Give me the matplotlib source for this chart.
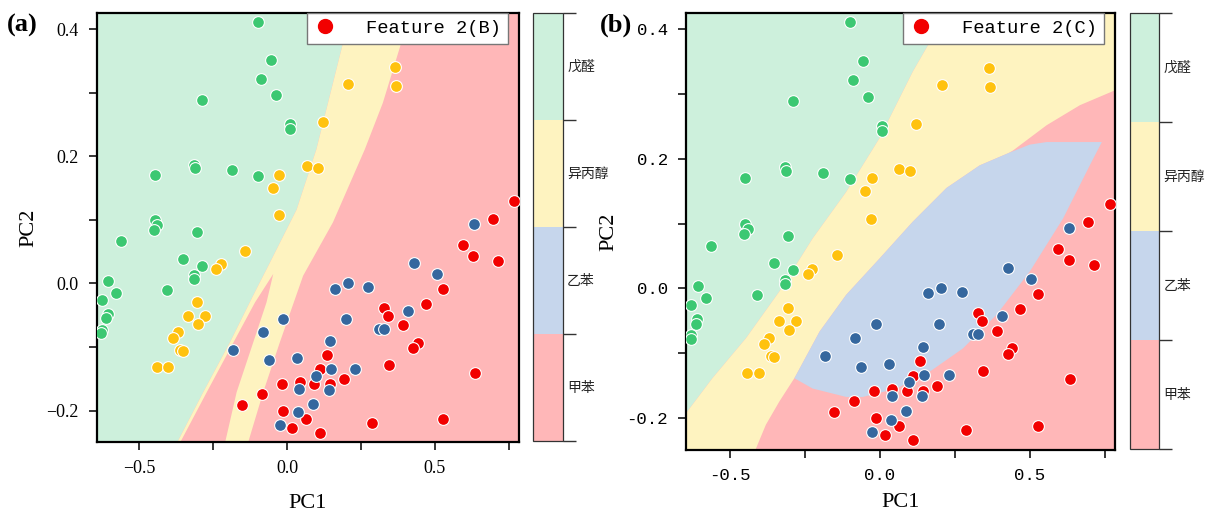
import matplotlib.pyplot as plt
import numpy as np
from matplotlib.colors import ListedColormap, BoundaryNorm
from matplotlib.cm import ScalarMappable

# class names, bottom -> top on the colour bar
classes = ['甲苯', '乙苯', '异丙醇', '戊醛']
region_colors = ['#ffb7b8', '#c6d6ec', '#fef3c0', '#cdf0dc']
point_colors = ['#f20000', '#35679e', '#ffc20f', '#3cc872']

# PCA scores (same samples in both panels)
green_x = [-0.098, -0.055, -0.088, -0.038, -0.288, 0.009, 0.009, -0.315, -0.312, -0.447,
           -0.188, -0.098, -0.447, -0.440, -0.452, -0.306, -0.562, -0.352, -0.288, -0.316,
           -0.316, -0.407, -0.605, -0.580, -0.627, -0.608, -0.613, -0.627, -0.629]
green_y = [0.411, 0.351, 0.322, 0.296, 0.289, 0.251, 0.243, 0.187, 0.182, 0.171,
           0.178, 0.169, 0.100, 0.092, 0.084, 0.081, 0.066, 0.039, 0.028, 0.013,
           0.007, -0.010, 0.004, -0.015, -0.026, -0.048, -0.055, -0.073, -0.078]

yellow_x = [0.366, 0.367, 0.207, 0.122, 0.066, 0.103, -0.026, -0.047, -0.029, -0.143,
            -0.224, -0.240, -0.306, -0.336, -0.278, -0.301, -0.370, -0.385, -0.362, -0.353,
            -0.441, -0.402]
yellow_y = [0.341, 0.311, 0.314, 0.254, 0.184, 0.182, 0.171, 0.150, 0.107, 0.051,
            0.030, 0.022, -0.030, -0.051, -0.051, -0.064, -0.077, -0.086, -0.105, -0.107,
            -0.131, -0.131]

red_x = [0.769, 0.696, 0.596, 0.630, 0.715, 0.529, 0.469, 0.329, 0.341, 0.393,
         0.443, 0.427, 0.345, 0.636, 0.135, 0.110, 0.193, 0.091, 0.144, 0.043,
         -0.152, -0.085, -0.017, -0.013, 0.018, 0.064, 0.110, 0.287, 0.528]
red_y = [0.130, 0.102, 0.060, 0.043, 0.036, -0.009, -0.032, -0.039, -0.051, -0.066,
         -0.093, -0.102, -0.128, -0.141, -0.112, -0.135, -0.151, -0.159, -0.159, -0.155,
         -0.191, -0.174, -0.159, -0.201, -0.227, -0.213, -0.235, -0.219, -0.213]

blue_x = [0.633, 0.429, 0.506, 0.163, 0.206, 0.274, 0.409, 0.198, 0.311, 0.327,
          0.144, 0.147, 0.231, 0.097, 0.143, 0.041, 0.088, 0.038, -0.013, -0.082,
          -0.182, -0.062, 0.032, -0.024]
blue_y = [0.093, 0.032, 0.015, -0.008, 0.001, -0.005, -0.043, -0.056, -0.071, -0.071,
          -0.091, -0.134, -0.134, -0.145, -0.167, -0.166, -0.189, -0.203, -0.056, -0.077,
          -0.104, -0.121, -0.117, -0.222]

# decision regions, panel (a)
a_green_edge_x = [0.200, 0.189, 0.099, 0.032, -0.058, -0.115, -0.194, -0.284, -0.372]
a_green_edge_y = [0.425, 0.378, 0.211, 0.116, 0.033, -0.019, -0.093, -0.171, -0.250]
a_yellow_edge_x = [0.392, 0.386, 0.324, 0.263, 0.155, 0.054, -0.025, -0.081, -0.132]
a_yellow_edge_y = [0.425, 0.378, 0.284, 0.211, 0.096, 0.012, -0.093, -0.171, -0.250]
a_wedge_x = [-0.047, -0.109, -0.182, -0.272, -0.362, -0.210, -0.171, -0.115, -0.070]
a_wedge_y = [0.015, -0.030, -0.093, -0.171, -0.250, -0.250, -0.171, -0.093, -0.030]

# decision regions, panel (b)
b_green_edge_x = [0.223, 0.111, 0.0, -0.111, -0.223, -0.334, -0.445, -0.557, -0.645]
b_green_edge_y = [0.425, 0.335, 0.232, 0.149, 0.077, -0.005, -0.077, -0.139, -0.193]
b_yellow_top_x = [0.785, 0.668, 0.557, 0.445]
b_yellow_top_y = [0.306, 0.283, 0.252, 0.213]
b_blue_top_x = [0.430, 0.334, 0.223, 0.111, 0.0, -0.111, -0.200, -0.278, -0.284]
b_blue_top_y = [0.209, 0.190, 0.155, 0.103, 0.046, -0.010, -0.067, -0.134, -0.139]
b_yellow_bottom_x = [-0.284, -0.334, -0.379, -0.414]
b_yellow_bottom_y = [-0.139, -0.175, -0.211, -0.250]
b_blue_bottom_x = [-0.223, -0.111, -0.056, 0.056, 0.167, 0.278, 0.390, 0.501, 0.612,
                   0.702, 0.741, 0.557, 0.500]
b_blue_bottom_y = [-0.155, -0.168, -0.168, -0.155, -0.129, -0.093, -0.041, 0.026, 0.108,
                   0.191, 0.226, 0.226, 0.222]

xlim = (-0.645, 0.785)
ylim = (-0.25, 0.425)
x_ticks = [-0.5, -0.25, 0.0, 0.25, 0.5, 0.75]
y_ticks = [-0.2, -0.1, 0.0, 0.1, 0.2, 0.3, 0.4]
a_x_labels = ['\u22120.5', '', '0.0', '', '0.5', '']
a_y_labels = ['\u22120.2', '', '0.0', '', '0.2', '', '0.4']
b_x_labels = ['-0.5', '', '0.0', '', '0.5', '']
b_y_labels = ['-0.2', '', '0.0', '', '0.2', '', '0.4']


def draw_points(ax):
    groups = [(green_x, green_y, point_colors[3]),
              (yellow_x, yellow_y, point_colors[2]),
              (red_x, red_y, point_colors[0]),
              (blue_x, blue_y, point_colors[1])]
    for gx, gy, c in groups:
        ax.scatter(gx, gy, s=72, c=c, edgecolors='white', linewidths=0.8, zorder=3)


def style_axes(ax, xlabels, ylabels, tickfont, tsize, xpad):
    ax.set_xlim(xlim)
    ax.set_ylim(ylim)
    ax.set_xticks(x_ticks)
    ax.set_xticklabels(xlabels, family=tickfont, fontsize=tsize)
    ax.set_yticks(y_ticks)
    ax.set_yticklabels(ylabels, family=tickfont, fontsize=tsize)
    ax.tick_params(length=6, width=1.1, pad=7)
    for s in ax.spines.values():
        s.set_linewidth(1.6)
    ax.set_xlabel('PC1', family='Liberation Serif', fontsize=16, labelpad=xpad)
    ax.set_ylabel('PC2', family='Liberation Serif', fontsize=16, labelpad=6)


def add_legend(ax, text, gap):
    h = plt.Line2D([], [], marker='o', ls='', color=point_colors[0], markersize=10)
    leg = ax.legend([h], [text], loc='upper right', bbox_to_anchor=(1 - gap, 1.0),
                    borderaxespad=0, fancybox=False, framealpha=1, handletextpad=1.6,
                    prop={'family': 'Liberation Mono', 'size': 13.5}, borderpad=0.35,
                    handlelength=1.2)
    leg.get_frame().set_edgecolor('#777777')
    leg.get_frame().set_linewidth(1.0)
    leg.set_zorder(5)


def add_cbar(fig, rect):
    cax = fig.add_axes(rect)
    cmap = ListedColormap(region_colors)
    norm = BoundaryNorm(np.arange(5), 4)
    cb = fig.colorbar(ScalarMappable(norm=norm, cmap=cmap), cax=cax)
    cb.set_ticks(np.arange(5))
    cb.set_ticklabels([''] * 5)
    cb.outline.set_edgecolor('#333333')
    cb.outline.set_linewidth(0.9)
    cax.tick_params(which='major', length=9, width=1.0, color='#333333')
    for i, name in enumerate(classes):
        cax.text(1.15, i + 0.5, name, transform=cax.get_yaxis_transform(),
                 va='center', ha='left', fontsize=10, family='Noto Sans CJK SC',
                 color='#222222')


fig = plt.figure(figsize=(12.1, 5.16), dpi=100)

# ---- panel (a)
ax1 = fig.add_axes([0.0799, 0.1428, 0.3490, 0.8314])
ax1.set_facecolor(region_colors[0])
ax1.fill([xlim[0]] + a_green_edge_x + [xlim[0]],
         [ylim[1]] + a_green_edge_y + [ylim[0]], color=region_colors[3], lw=0)
ax1.fill(a_green_edge_x + a_yellow_edge_x[::-1],
         a_green_edge_y + a_yellow_edge_y[::-1], color=region_colors[2], lw=0)
ax1.fill(a_wedge_x, a_wedge_y, color=region_colors[0], lw=0)
draw_points(ax1)
style_axes(ax1, a_x_labels, a_y_labels, 'Liberation Serif', 13, 12)
add_legend(ax1, 'Feature 2(B)', 0.026)
add_cbar(fig, [0.4405, 0.1448, 0.0245, 0.8294])
fig.text(0.006, 0.938, '(a)', family='Liberation Serif', fontsize=19, fontweight='bold')

# ---- panel (b)
ax2 = fig.add_axes([0.5670, 0.1279, 0.3545, 0.8463])
ax2.set_facecolor(region_colors[0])
ax2.fill([xlim[0]] + b_green_edge_x + [xlim[0]],
         [ylim[1]] + b_green_edge_y + [ylim[1]], color=region_colors[3], lw=0)
yel_x = (b_green_edge_x + [xlim[0], -0.414] + b_yellow_bottom_x[::-1]
         + b_blue_top_x[::-1] + b_yellow_top_x[::-1] + [xlim[1]])
yel_y = (b_green_edge_y + [ylim[0], ylim[0]] + b_yellow_bottom_y[::-1]
         + b_blue_top_y[::-1] + b_yellow_top_y[::-1] + [ylim[1]])
ax2.fill(yel_x, yel_y, color=region_colors[2], lw=0)
ax2.fill(b_blue_top_x + b_blue_bottom_x, b_blue_top_y + b_blue_bottom_y,
         color=region_colors[1], lw=0)
draw_points(ax2)
style_axes(ax2, b_x_labels, b_y_labels, 'Liberation Mono', 12.5, 7)
add_legend(ax2, 'Feature 2(C)', 0.026)
add_cbar(fig, [0.9339, 0.1298, 0.0242, 0.8444])
fig.text(0.496, 0.938, '(b)', family='Liberation Serif', fontsize=19, fontweight='bold')

fig.savefig('out.png', dpi=100)
plt.close(fig)
